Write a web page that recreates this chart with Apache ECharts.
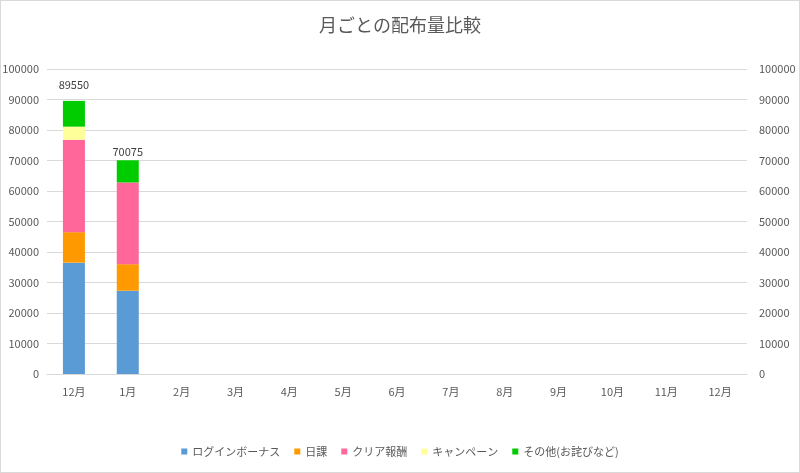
<!DOCTYPE html>
<html>
<head>
    <meta charset="utf-8" />
    <title>月ごとの配布量比較</title>
    <script src="https://cdn.jsdelivr.net/npm/echarts@6/dist/echarts.min.js"></script>
    <style>
        html, body { margin: 0; padding: 0; background: #fff; }
        #main { width: 800px; height: 473px; box-sizing: border-box; border: 1px solid #d9d9d9; }
    </style>
</head>
<body>
    <div id="main"></div>
    <script type="text/javascript">
        // データ
        var months = ['12月', '1月', '2月', '3月', '4月', '5月', '6月', '7月', '8月', '9月', '10月', '11月', '12月'];
        var loginBonus = [36500, 27300];
        var daily = [10000, 8700];
        var clearReward = [30300, 26800];
        var campaign = [4300, 0];
        var others = [8450, 7275];
        var axisTicks = [0, 10000, 20000, 30000, 40000, 50000, 60000, 70000, 80000, 90000, 100000];

        var totals = [];
        for (var i = 0; i < loginBonus.length; i++) {
            totals.push(loginBonus[i] + daily[i] + clearReward[i] + campaign[i] + others[i]);
        }

        var font = '"Noto Sans CJK JP", "Noto Sans", sans-serif';
        var labelColor = '#595959';
        var plain = function (v) { return String(v); };
        // 合計ラベルと棒の間隔
        var labelGap = [11, 3];

        var topData = [];
        for (var j = 0; j < others.length; j++) {
            topData.push({ value: others[j], label: { distance: labelGap[j] } });
        }

        var myChart = echarts.init(document.getElementById('main'));
        var option = {
            backgroundColor: '#fff',
            animation: false,
            title: {
                text: '月ごとの配布量比較',
                left: 'center',
                top: 10,
                textStyle: { color: labelColor, fontSize: 18, fontWeight: 'normal', fontFamily: font }
            },
            legend: {
                bottom: 10,
                left: 'center',
                itemWidth: 6,
                itemHeight: 6,
                itemGap: 14,
                icon: 'rect',
                textStyle: { color: labelColor, fontSize: 11, fontFamily: font },
                data: ['ログインボーナス', '日課', 'クリア報酬', 'キャンペーン', 'その他(お詫びなど)']
            },
            grid: { left: 46, right: 52, top: 68, bottom: 98, containLabel: false, outerBoundsMode: 'none' },
            xAxis: {
                type: 'category',
                data: months,
                axisTick: { show: false },
                axisLine: { lineStyle: { color: '#d9d9d9' } },
                axisLabel: { color: labelColor, fontSize: 11, fontFamily: font, margin: 12 }
            },
            yAxis: [
                {
                    type: 'value', min: axisTicks[0], max: axisTicks[axisTicks.length - 1], interval: 10000,
                    axisLine: { show: false }, axisTick: { show: false },
                    splitLine: { lineStyle: { color: '#d9d9d9' } },
                    axisLabel: { color: labelColor, fontSize: 11, fontFamily: font, margin: 8, formatter: plain }
                },
                {
                    type: 'value', min: axisTicks[0], max: axisTicks[axisTicks.length - 1], interval: 10000,
                    position: 'right',
                    axisLine: { show: false }, axisTick: { show: false },
                    splitLine: { show: false },
                    axisLabel: { color: labelColor, fontSize: 11, fontFamily: font, margin: 12, align: 'left', formatter: plain }
                }
            ],
            series: [
                { name: 'ログインボーナス', type: 'bar', stack: 'total', barWidth: 22, data: loginBonus, itemStyle: { color: '#5b9bd5' } },
                { name: '日課', type: 'bar', stack: 'total', data: daily, itemStyle: { color: '#ff9900' } },
                { name: 'クリア報酬', type: 'bar', stack: 'total', data: clearReward, itemStyle: { color: '#ff6699' } },
                { name: 'キャンペーン', type: 'bar', stack: 'total', data: campaign, itemStyle: { color: '#ffff99' } },
                {
                    name: 'その他(お詫びなど)', type: 'bar', stack: 'total', data: topData, itemStyle: { color: '#00cc00' },
                    label: {
                        show: true, position: 'top',
                        color: '#404040', fontSize: 11, fontFamily: font,
                        formatter: function (p) { return totals[p.dataIndex]; }
                    }
                }
            ]
        };
        myChart.setOption(option);
    </script>
</body>
</html>
